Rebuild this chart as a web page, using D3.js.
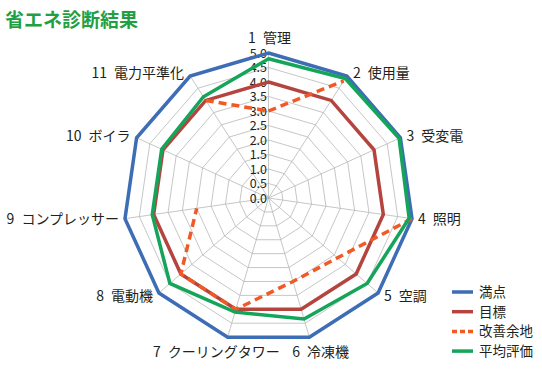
<!DOCTYPE html>
<html><head><meta charset="utf-8">
<script src="https://cdn.jsdelivr.net/npm/d3@7"></script>
<style>
html,body{margin:0;padding:0;background:#fff;}
text{font-family:"Noto Sans CJK JP","Noto Sans",sans-serif;}
</style></head>
<body>
<svg id="c" width="542" height="369"></svg>
<script>
const title = "省エネ診断結果";
const categories = ["1 管理","2 使用量","3 受変電","4 照明","5 空調","6 冷凍機","7 クーリングタワー","8 電動機","9 コンプレッサー","10 ボイラ","11 電力平準化"];
const tickValues = [0,0.5,1,1.5,2,2.5,3,3.5,4,4.5,5];
const seriesNames = ["満点","目標","改善余地","平均評価"];
const fullScore = [5,5,5,5,5,5,5,5,5,5,5];
const target = [4,4,4,4,4,4,4,4,4,4,4];
const improvement = [3.0,4.8,null,5.0,3.15,3.0,4.0,4.0,2.5,null,4.0];
const average = [4.8,4.9,4.95,4.9,4.5,4.35,4.1,4.5,4.05,4.05,4.15];
const colors = ["#3d6db5","#b5443f","#f15a24","#14a55a"];

const svg = d3.select("#c");
const cx = 268.5, cy = 198, R = 145;
const n = categories.length;
const r = d3.scaleLinear().domain([0,5]).range([0,R]);
const ang = d3.scaleLinear().domain([0,n]).range([0,2*Math.PI]);
const pt = (i,v)=>[cx+Math.sin(ang(i))*r(v), cy-Math.cos(ang(i))*r(v)];

svg.append("text").attr("x",5).attr("y",27).attr("font-size",19).attr("font-weight","bold")
  .attr("fill","#1fa043").text(title);

const g = svg.append("g");
tickValues.slice(1).forEach(t=>{
  g.append("polygon").attr("points", d3.range(n).map(i=>pt(i,t).join(",")).join(" "))
   .attr("fill","none").attr("stroke","#b8b8b8").attr("stroke-width",0.8);
});
d3.range(n).forEach(i=>{
  const p = pt(i,5);
  g.append("line").attr("x1",cx).attr("y1",cy).attr("x2",p[0]).attr("y2",p[1])
   .attr("stroke","#b8b8b8").attr("stroke-width",0.8);
});
tickValues.forEach(t=>{
  g.append("text").attr("x",cx-1.5).attr("y",pt(0,t)[1]).attr("dy","0.36em")
   .attr("text-anchor","end").attr("font-size",12.5).attr("fill","#231f20")
   .text(d3.format(".1f")(t));
});
categories.forEach((c,i)=>{
  const a = ang(i), s = Math.sin(a), co = Math.cos(a);
  const p = pt(i,5);
  let x, y, anchor;
  if (Math.abs(s) < 0.1) { anchor="middle"; x=p[0]+1; y=p[1]-15; }
  else if (co < -0.9) { anchor="middle"; x=p[0]+s*40; y=p[1]+15; }
  else { anchor = s>0?"start":"end"; x=p[0]+(s>0?6:-6); y=p[1]-co*4; }
  g.append("text").attr("x",x).attr("y",y).attr("dy","0.36em").attr("text-anchor",anchor)
   .attr("font-size",14).attr("fill","#231f20").attr("xml:space","preserve").text(c.replace(" ","\u2002"));
});

const line = d3.lineRadial().angle((d,i)=>ang(i)).radius(d=>r(d)).curve(d3.curveLinearClosed);
const lineOpen = d3.lineRadial().angle(d=>ang(d.i)).radius(d=>r(d.v)).defined(d=>d.v!=null);
const sg = svg.append("g").attr("transform",`translate(${cx},${cy})`);
sg.append("path").attr("d",line(fullScore)).attr("fill","none").attr("stroke",colors[0]).attr("stroke-width",3.5);
sg.append("path").attr("d",line(target)).attr("fill","none").attr("stroke",colors[1]).attr("stroke-width",3.5);
const impData = improvement.map((v,i)=>({i,v})).concat([{i:n,v:improvement[0]}]);
sg.append("path").attr("d",lineOpen(impData)).attr("fill","none").attr("stroke",colors[2]).attr("stroke-width",3.5).attr("stroke-dasharray","8,5");
sg.append("path").attr("d",line(average)).attr("fill","none").attr("stroke",colors[3]).attr("stroke-width",3.5);

const lg = svg.append("g");
seriesNames.forEach((s,k)=>{
  const y = 292 + k*19.7;
  lg.append("line").attr("x1",452).attr("x2",473).attr("y1",y).attr("y2",y)
    .attr("stroke",colors[k]).attr("stroke-width",3.5).attr("stroke-dasharray",k===2?"5,3":null);
  lg.append("text").attr("x",479).attr("y",y).attr("dy","0.36em").attr("font-size",13.5)
    .attr("fill","#231f20").text(s);
});
</script>
</body></html>
